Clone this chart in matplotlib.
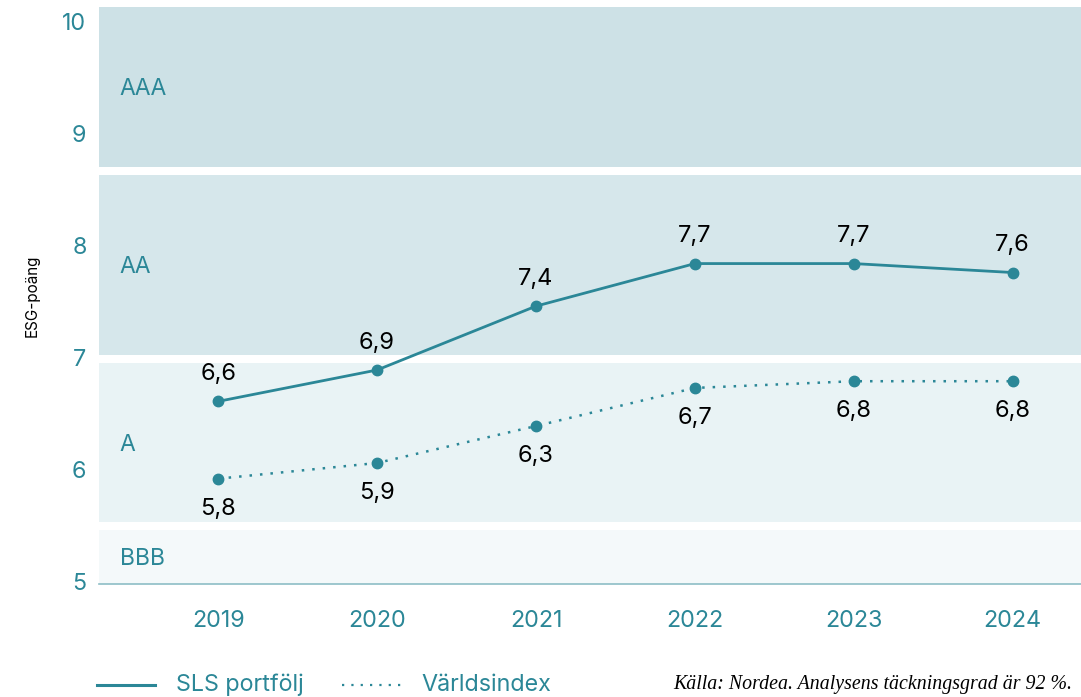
import matplotlib
matplotlib.use('Agg')
import matplotlib.pyplot as plt
from matplotlib.lines import Line2D

plt.rcParams['font.family'] = ['Inter', 'DejaVu Sans']

years = [2019, 2020, 2021, 2022, 2023, 2024]
sls = [6.61, 6.89, 7.46, 7.84, 7.84, 7.76]
sls_labels = ['6,6', '6,9', '7,4', '7,7', '7,7', '7,6']
world = [5.92, 6.06, 6.39, 6.73, 6.79, 6.79]
world_labels = ['5,8', '5,9', '6,3', '6,7', '6,8', '6,8']

bands = ['AAA', 'AA', 'A', 'BBB']
band_lo = [8.70, 7.02, 5.53, 4.98]
band_hi = [10.13, 8.63, 6.95, 5.46]
band_colors = ['#cde1e6', '#d6e7eb', '#e9f3f5', '#f4f9fa']

teal = '#2b8797'

fig = plt.figure(figsize=(10.81, 6.97), dpi=100)
ax = fig.add_axes([99 / 1081, 1 - 584 / 697, 1 - 99 / 1081, (584 - 7) / 697])

for name, lo, hi, c in zip(bands, band_lo, band_hi, band_colors):
    ax.axhspan(lo, hi, color=c, lw=0, zorder=0)
    ax.text(2018.38, (lo + hi) / 2 - 0.02, name, color=teal, fontsize=16.5,
            va='center', ha='left')

ax.plot(years, sls, color=teal, lw=2, marker='o', ms=7.5, zorder=3)
ax.plot(years, world, color=teal, lw=1.8, ls=(0, (1, 3.2)), marker='o',
        ms=7.5, zorder=3)

for x, y, s in zip(years, sls, sls_labels):
    ax.annotate(s, (x, y), xytext=(0, 19.5), textcoords='offset points',
                ha='center', va='center', fontsize=17, color='black')
for x, y, s in zip(years, world, world_labels):
    ax.annotate(s, (x, y), xytext=(0, -21.5), textcoords='offset points',
                ha='center', va='center', fontsize=17, color='black')

ax.set_xlim(2018.25, 2024.43)
ax.set_ylim(4.98, 10.13)
ax.set_yticks([5, 6, 7, 8, 9, 10])
ax.set_xticks(years)
ax.tick_params(length=0, colors=teal, labelsize=16.8)
ax.tick_params(axis='y', pad=9)
ax.tick_params(axis='x', pad=19)
for sp in ['top', 'right', 'left']:
    ax.spines[sp].set_visible(False)
ax.spines['bottom'].set_color('#8dbdc6')
ax.spines['bottom'].set_linewidth(1.2)
ax.set_ylabel('ESG-poäng', fontsize=11, color='black')
ax.yaxis.set_label_coords(-0.060, 0.5)

# legend and source at the bottom
fig.add_artist(Line2D([97 / 1081, 155 / 1081], [12 / 697, 12 / 697],
                      color=teal, lw=2.2))
fig.text(176 / 1081, 12 / 697, 'SLS portfölj', color=teal, fontsize=16.8,
         va='center')
fig.add_artist(Line2D([342 / 1081, 404 / 1081], [12 / 697, 12 / 697],
                      color=teal, lw=1.6, ls=(0, (1, 3.2))))
fig.text(421 / 1081, 12 / 697, 'Världsindex', color=teal, fontsize=16.8,
         va='center')
fig.text(1072 / 1081, 12 / 697, 'Källa: Nordea. Analysens täckningsgrad är 92 %.',
         family='Liberation Serif', style='italic', fontsize=14.3, ha='right',
         va='center', color='black')

fig.savefig('out.png', dpi=100)
